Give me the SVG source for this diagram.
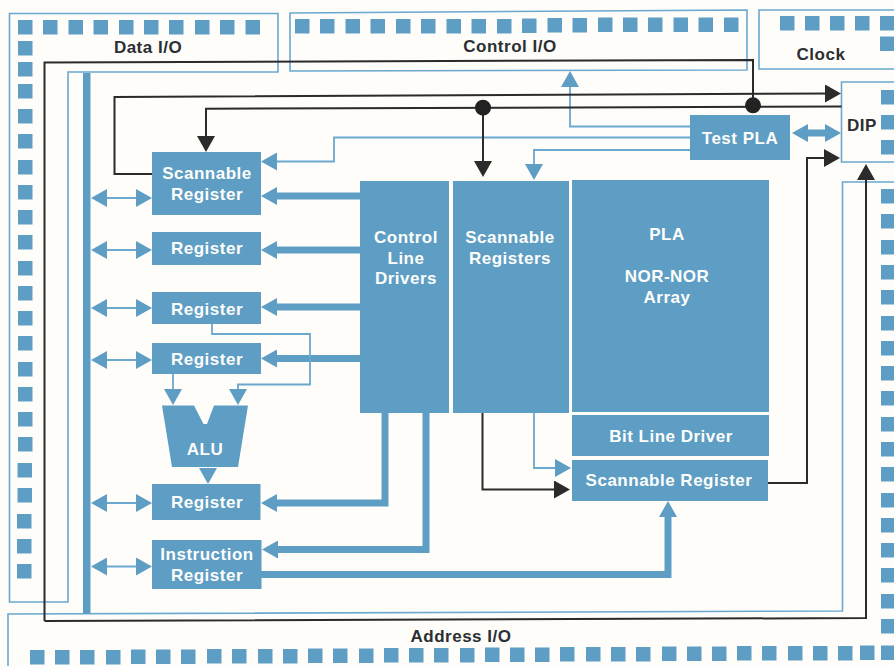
<svg xmlns="http://www.w3.org/2000/svg" width="894" height="666" viewBox="0 0 894 666">
<style>
.bg{fill:#fefdfa}
.box{fill:#5e9dc4}
.out{fill:none;stroke:#6aa8cf;stroke-width:1.6}
.k{fill:none;stroke:#2b2b2b;stroke-width:2}
.t{fill:none;stroke:#6aa8cf;stroke-width:1.8}
.f{fill:none;stroke:#5e9dc4;stroke-width:7}
text{font-family:"Liberation Sans",Arial,sans-serif;font-weight:700;font-size:17px;letter-spacing:.5px;text-anchor:middle}
.w{fill:#fdfdfb}
.d{fill:#2b2f33}
.pad{fill:#5e9dc4}
</style>
<defs>
<rect id="p" class="pad" width="14.5" height="14.5"/>
<marker id="ab" markerUnits="userSpaceOnUse" markerWidth="16" markerHeight="18" refX="8" refY="9" orient="auto-start-reverse"><path d="M0,0L16,9L0,18Z" fill="#5e9dc4"/></marker>
<marker id="ak" markerUnits="userSpaceOnUse" markerWidth="16" markerHeight="18" refX="8" refY="9" orient="auto"><path d="M0,0L16,9L0,18Z" fill="#2b2b2b"/></marker>
</defs>
<rect class="bg" width="894" height="666"/>
<g id="package-outlines">
<path class="out" d="M68,72H278V13.5H9.5V602H68Z"/>
<path class="out" d="M290,13L747,10V70L290,71Z"/>
<path class="out" d="M894,10H759V69H894"/>
<path class="out" d="M894,82H841.5V162H894"/>
<path class="out" d="M8,666V614L842.5,611V182H894"/>
</g>
<g id="pads-data">
<use href="#p" x="18" y="20"/><use href="#p" x="43" y="20"/><use href="#p" x="68.5" y="20"/><use href="#p" x="93.5" y="20"/><use href="#p" x="119" y="20"/><use href="#p" x="144" y="20"/><use href="#p" x="169" y="20"/><use href="#p" x="195" y="20"/><use href="#p" x="220" y="20"/><use href="#p" x="245.5" y="20"/>
<use href="#p" x="18" y="41"/><use href="#p" x="18" y="62"/><use href="#p" x="18" y="84"/><use href="#p" x="18" y="109"/><use href="#p" x="18" y="134"/><use href="#p" x="18" y="160"/><use href="#p" x="18" y="185"/><use href="#p" x="18" y="210"/><use href="#p" x="18" y="235"/><use href="#p" x="18" y="261"/><use href="#p" x="18" y="286"/><use href="#p" x="18" y="311"/><use href="#p" x="18" y="336"/><use href="#p" x="18" y="362"/><use href="#p" x="18" y="387"/><use href="#p" x="18" y="412"/><use href="#p" x="18" y="437"/><use href="#p" x="17.5" y="463"/><use href="#p" x="17.5" y="488"/><use href="#p" x="17" y="514"/><use href="#p" x="17" y="539"/><use href="#p" x="17" y="564"/>
</g>
<g id="pads-control">
<use href="#p" x="295" y="19"/><use href="#p" x="320" y="19"/><use href="#p" x="345.5" y="19"/><use href="#p" x="370.5" y="19"/><use href="#p" x="396" y="19"/><use href="#p" x="421" y="19"/><use href="#p" x="446.5" y="19"/><use href="#p" x="471.5" y="19"/><use href="#p" x="497" y="19"/><use href="#p" x="522" y="18.5"/><use href="#p" x="547.5" y="18"/><use href="#p" x="572.5" y="18"/><use href="#p" x="598" y="17.5"/><use href="#p" x="623" y="17.5"/><use href="#p" x="648" y="17.5"/><use href="#p" x="673.5" y="17.5"/><use href="#p" x="698.5" y="17.5"/><use href="#p" x="724" y="17.5"/>
</g>
<g id="pads-clock">
<use href="#p" x="780" y="16"/><use href="#p" x="805" y="16"/><use href="#p" x="830" y="16"/><use href="#p" x="855" y="16"/><use href="#p" x="880" y="16"/><use href="#p" x="880" y="36.5"/>
</g>
<g id="pads-dip">
<use href="#p" x="881" y="90"/><use href="#p" x="881" y="115"/><use href="#p" x="881" y="140"/>
</g>
<g id="pads-address">
<use href="#p" x="881" y="189"/><use href="#p" x="881" y="214"/><use href="#p" x="881" y="240"/><use href="#p" x="881" y="265"/><use href="#p" x="881" y="290"/><use href="#p" x="881" y="316"/><use href="#p" x="881" y="341"/><use href="#p" x="881" y="366"/><use href="#p" x="881" y="391"/><use href="#p" x="881" y="417"/><use href="#p" x="881" y="442"/><use href="#p" x="881" y="467"/><use href="#p" x="881" y="493"/><use href="#p" x="881" y="518"/><use href="#p" x="881" y="543"/><use href="#p" x="881" y="568"/><use href="#p" x="881" y="594"/><use href="#p" x="881" y="619"/>
<use href="#p" x="30" y="650"/><use href="#p" x="55" y="650"/><use href="#p" x="80" y="650"/><use href="#p" x="106" y="650"/><use href="#p" x="131" y="649.5"/><use href="#p" x="156" y="649.5"/><use href="#p" x="181" y="649.5"/><use href="#p" x="207" y="649"/><use href="#p" x="232" y="649"/><use href="#p" x="258" y="649"/><use href="#p" x="283" y="649"/><use href="#p" x="308" y="648.5"/><use href="#p" x="333" y="648.5"/><use href="#p" x="359" y="648.5"/><use href="#p" x="384" y="648"/><use href="#p" x="409" y="648"/><use href="#p" x="434" y="648"/><use href="#p" x="460" y="648"/><use href="#p" x="485" y="647.5"/><use href="#p" x="510" y="647.5"/><use href="#p" x="535" y="647.5"/><use href="#p" x="560" y="647"/><use href="#p" x="586" y="647"/><use href="#p" x="611" y="647"/><use href="#p" x="636" y="647"/><use href="#p" x="662" y="646.5"/><use href="#p" x="687" y="646.5"/><use href="#p" x="712" y="646.5"/><use href="#p" x="737" y="646"/><use href="#p" x="762" y="646"/><use href="#p" x="788" y="646"/><use href="#p" x="813" y="646"/><use href="#p" x="838" y="646"/><use href="#p" x="860" y="645.5"/><use href="#p" x="881" y="645.5"/>
</g>
<g id="connectors">
<rect class="box" x="83" y="73" width="7.5" height="541"/>
<path class="t" marker-start="url(#ab)" marker-end="url(#ab)" d="M99,198H144"/>
<path class="t" marker-start="url(#ab)" marker-end="url(#ab)" d="M99,250H144"/>
<path class="t" marker-start="url(#ab)" marker-end="url(#ab)" d="M99,308H144"/>
<path class="t" marker-start="url(#ab)" marker-end="url(#ab)" d="M99,360H144"/>
<path class="t" marker-start="url(#ab)" marker-end="url(#ab)" d="M99,503H144"/>
<path class="t" marker-start="url(#ab)" marker-end="url(#ab)" d="M99,566.5H144"/>
<path class="f" marker-end="url(#ab)" d="M360,196H269"/>
<path class="f" marker-end="url(#ab)" d="M360,250H269"/>
<path class="f" marker-end="url(#ab)" d="M360,307H269"/>
<path class="f" marker-end="url(#ab)" d="M360,358.5H269"/>
<path class="f" marker-end="url(#ab)" d="M385,413V503H269"/>
<path class="f" marker-end="url(#ab)" d="M426,413V549.5H270"/>
<path class="f" marker-end="url(#ab)" d="M261,574.5H668V509"/>
<path class="f" marker-start="url(#ab)" marker-end="url(#ab)" d="M800,133H833"/>
<path class="t" marker-end="url(#ab)" d="M208,474V476"/>
<path class="t" marker-end="url(#ab)" d="M173,374V397"/>
<path class="t" marker-end="url(#ab)" d="M212,324V334H310V384.5H238V397"/>
<path class="t" marker-end="url(#ab)" d="M690,126.5H570V79"/>
<path class="t" marker-end="url(#ab)" d="M690,137.5H334V161.5H269"/>
<path class="t" marker-end="url(#ab)" d="M690,150H534V172"/>
<path class="t" marker-end="url(#ab)" d="M534,413V468H563"/>
<path class="k" d="M44.5,621V62.5L753,60V105"/>
<path class="k" marker-end="url(#ak)" d="M44.5,621L866,618V172"/>
<path class="k" marker-end="url(#ak)" d="M152,174H114.5V97L833,93.5"/>
<path class="k" marker-end="url(#ak)" d="M841.5,106.5L206,108.7V144"/>
<path class="k" marker-end="url(#ak)" d="M483,108V169"/>
<path class="k" marker-end="url(#ak)" d="M482.5,413V489.5H562"/>
<path class="k" marker-end="url(#ak)" d="M768,483H807V158H832"/>
<circle cx="483" cy="107.7" r="8" fill="#222"/>
<circle cx="753" cy="105.3" r="8" fill="#222"/>
</g>
<g id="data-io"><text class="d" x="148" y="53">Data I/O</text></g>
<g id="control-io"><text class="d" x="510" y="52">Control I/O</text></g>
<g id="clock"><text class="d" x="821" y="60">Clock</text></g>
<g id="dip"><text class="d" x="862" y="131">DIP</text></g>
<g id="address-io"><text class="d" x="461" y="642">Address I/O</text></g>
<g id="test-pla"><rect class="box" x="690" y="115" width="100" height="45"/><text class="w" x="740" y="144">Test PLA</text></g>
<g id="scannable-register-a"><rect class="box" x="152" y="152" width="109" height="63"/><text class="w" x="207" y="179">Scannable</text><text class="w" x="207" y="199.5">Register</text></g>
<g id="register-b"><rect class="box" x="152" y="232" width="109" height="33"/><text class="w" x="207" y="254">Register</text></g>
<g id="register-c"><rect class="box" x="152" y="292" width="109" height="32"/><text class="w" x="207" y="315">Register</text></g>
<g id="register-d"><rect class="box" x="152" y="343" width="109" height="31"/><text class="w" x="207" y="365">Register</text></g>
<g id="alu"><path class="box" d="M162,405.5H194L203.5,424H207L214,405.5H248L238,467H172Z"/><text class="w" x="205" y="455">ALU</text></g>
<g id="register-e"><rect class="box" x="152" y="484" width="108.5" height="36"/><text class="w" x="207" y="508">Register</text></g>
<g id="instruction-register"><rect class="box" x="152" y="540" width="109.5" height="49"/><text class="w" x="207" y="560">Instruction</text><text class="w" x="207" y="580.5">Register</text></g>
<g id="control-line-drivers"><rect class="box" x="360" y="181" width="89" height="232"/><text class="w" x="406" y="243">Control</text><text class="w" x="406" y="264">Line</text><text class="w" x="406" y="284">Drivers</text></g>
<g id="scannable-registers"><rect class="box" x="453" y="181" width="116" height="232"/><text class="w" x="510" y="243">Scannable</text><text class="w" x="510" y="264">Registers</text></g>
<g id="pla"><rect class="box" x="572" y="180" width="197" height="232"/><text class="w" x="667" y="240">PLA</text><text class="w" x="667" y="282">NOR-NOR</text><text class="w" x="667" y="303">Array</text></g>
<g id="bit-line-driver"><rect class="box" x="572" y="415" width="197" height="41"/><text class="w" x="671" y="442">Bit Line Driver</text></g>
<g id="scannable-register-b"><rect class="box" x="572" y="460" width="196" height="41"/><text class="w" x="669" y="486">Scannable Register</text></g>
</svg>
